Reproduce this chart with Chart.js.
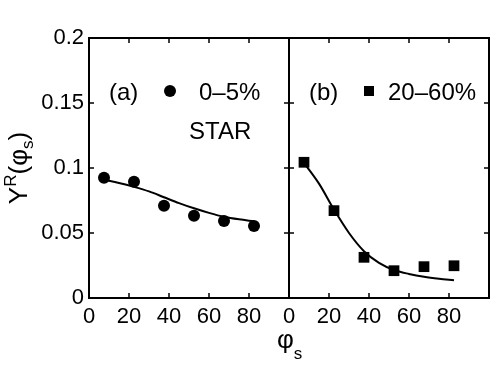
<!DOCTYPE html>
<html>
<head>
<meta charset="utf-8">
<script src="https://cdn.jsdelivr.net/npm/chart.js@4"></script>
<style>
  body { margin: 0; background: #fff; }
  #wrap { position: relative; width: 498px; height: 375px; }
  #wrap canvas { position: absolute; left: 0; top: 0; }
</style>
</head>
<body>
<div id="wrap">
  <canvas id="panelA" width="498" height="375"></canvas>
  <canvas id="panelB" width="498" height="375"></canvas>
</div>
<script>
// measured bins of phi_s (degrees)
const phiBins = [7.5, 22.5, 37.5, 52.5, 67.5, 82.5];
const central = [0.0925, 0.0895, 0.071, 0.0633, 0.0592, 0.0554];      // 0-5%
const peripheral = [0.1044, 0.0672, 0.0313, 0.021, 0.0241, 0.0248];   // 20-60%

// fit curves
const fitPhi = [7.5, 15, 22.5, 30, 37.5, 45, 52.5, 60, 67.5, 75, 82.5];
const centralFit = [0.091, 0.0885, 0.0855, 0.082, 0.0775, 0.073, 0.069, 0.0655, 0.0625, 0.0605, 0.059];
const peripheralFit = [0.104, 0.088, 0.068, 0.05, 0.036, 0.027, 0.0215, 0.0185, 0.0163, 0.0148, 0.0137];

const xTicks = [0, 20, 40, 60, 80];
const yTicks = [0, 0.05, 0.1, 0.15, 0.2];

const FONT = '"Liberation Sans", Arial, Helvetica, sans-serif';
Chart.defaults.font.family = FONT;
Chart.defaults.color = '#000';

const pts = (xs, ys) => xs.map((x, i) => ({ x, y: ys[i] }));

// box with ticks pointing inward on all four sides
const framePlugin = {
  id: 'frame',
  afterDraw(chart) {
    const { ctx, chartArea: a, scales } = chart;
    ctx.save();
    ctx.strokeStyle = '#000';
    ctx.lineWidth = 1.5;
    const len = 5;
    ctx.beginPath();
    xTicks.forEach(v => {
      if (v <= scales.x.min || v >= scales.x.max) return;
      const px = scales.x.getPixelForValue(v);
      ctx.moveTo(px, a.bottom); ctx.lineTo(px, a.bottom - len);
      ctx.moveTo(px, a.top); ctx.lineTo(px, a.top + len);
    });
    yTicks.forEach(v => {
      if (v <= scales.y.min || v >= scales.y.max) return;
      const py = scales.y.getPixelForValue(v);
      ctx.moveTo(a.left, py); ctx.lineTo(a.left + len, py);
      ctx.moveTo(a.right, py); ctx.lineTo(a.right - len, py);
    });
    ctx.stroke();
    ctx.lineWidth = 2;
    ctx.strokeRect(a.left, a.top, a.right - a.left, a.bottom - a.top);
    ctx.restore();
  }
};

function drawRun(ctx, parts, x, y) {
  // parts: [text, size, dy]
  let cx = x;
  parts.forEach(([t, size, dy]) => {
    ctx.font = size + 'px ' + FONT;
    ctx.fillText(t, cx, y + dy);
    cx += ctx.measureText(t).width;
  });
  return cx - x;
}
function runWidth(ctx, parts) {
  let w = 0;
  parts.forEach(([t, size]) => { ctx.font = size + 'px ' + FONT; w += ctx.measureText(t).width; });
  return w;
}

const labelsA = {
  id: 'labelsA',
  afterDraw(chart) {
    const { ctx } = chart;
    ctx.save();
    ctx.fillStyle = '#000';
    ctx.textBaseline = 'alphabetic';
    ctx.font = '24px ' + FONT;
    ctx.fillText('(a)', 109, 100);
    ctx.fillText('0\u20135%', 199, 100);
    ctx.fillText('STAR', 189, 139);
    ctx.beginPath();
    ctx.arc(170, 91, 6, 0, Math.PI * 2);
    ctx.fill();

    // y title: Y^R(phi_s)
    const parts = [['Y', 26, 0], ['R', 17, -11], ['(', 26, 0], ['\u03c6', 26, 0], ['s', 17, 6], [')', 26, 0]];
    ctx.translate(27, 168);
    ctx.rotate(-Math.PI / 2);
    const w = runWidth(ctx, parts);
    drawRun(ctx, parts, -w / 2, 0);
    ctx.restore();

    // x title phi_s
    ctx.save();
    ctx.fillStyle = '#000';
    drawRun(ctx, [['\u03c6', 26, 0], ['s', 17, 11]], 277, 348);
    ctx.restore();
  }
};

const labelsB = {
  id: 'labelsB',
  afterDraw(chart) {
    const { ctx } = chart;
    ctx.save();
    ctx.fillStyle = '#000';
    ctx.font = '24px ' + FONT;
    ctx.fillText('(b)', 309, 100);
    ctx.fillText('20\u201360%', 388, 100);
    ctx.fillRect(364, 86, 10, 10);
    ctx.restore();
  }
};

function makePanel(canvas, data, fit, style, radius, showY, pad, plugins) {
  return new Chart(canvas, {
    type: 'scatter',
    data: {
      datasets: [
        {
          type: 'line',
          data: pts(fitPhi, fit),
          borderColor: '#000',
          borderWidth: 2,
          pointRadius: 0,
          tension: 0.4,
          cubicInterpolationMode: 'monotone',
          fill: false,
        },
        {
          data: pts(phiBins, data),
          pointStyle: style,
          pointRadius: radius,
          backgroundColor: '#000',
          borderColor: '#000',
          borderWidth: 0,
        },
      ],
    },
    options: {
      responsive: false,
      animation: false,
      layout: { padding: pad },
      plugins: { legend: { display: false }, tooltip: { enabled: false } },
      scales: {
        x: {
          type: 'linear',
          min: 0,
          max: 100,
          afterBuildTicks: s => { s.ticks = xTicks.map(v => ({ value: v })); },
          afterFit: s => { s.height = 77; },
          ticks: { font: { size: 22 }, padding: 6, maxRotation: 0, autoSkip: false },
          grid: { drawOnChartArea: false, drawTicks: false },
          border: { display: false },
        },
        y: {
          min: 0,
          max: 0.2,
          afterBuildTicks: s => { s.ticks = yTicks.map(v => ({ value: v })); },
          afterFit: s => { s.width = showY ? 89 : 0; },
          ticks: {
            display: showY,
            font: { size: 22 },
            padding: 5,
            callback: v => String(Math.round(v * 100) / 100),
          },
          grid: { drawOnChartArea: false, drawTicks: false },
          border: { display: false },
        },
      },
    },
    plugins: [framePlugin, ...plugins],
  });
}

makePanel(document.getElementById('panelA'), central, centralFit, 'circle', 6, true,
  { left: 0, top: 38, right: 209, bottom: 0 }, [labelsA]);
makePanel(document.getElementById('panelB'), peripheral, peripheralFit, 'rect', 7.6, false,
  { left: 289, top: 38, right: 9, bottom: 0 }, [labelsB]);
</script>
</body>
</html>
